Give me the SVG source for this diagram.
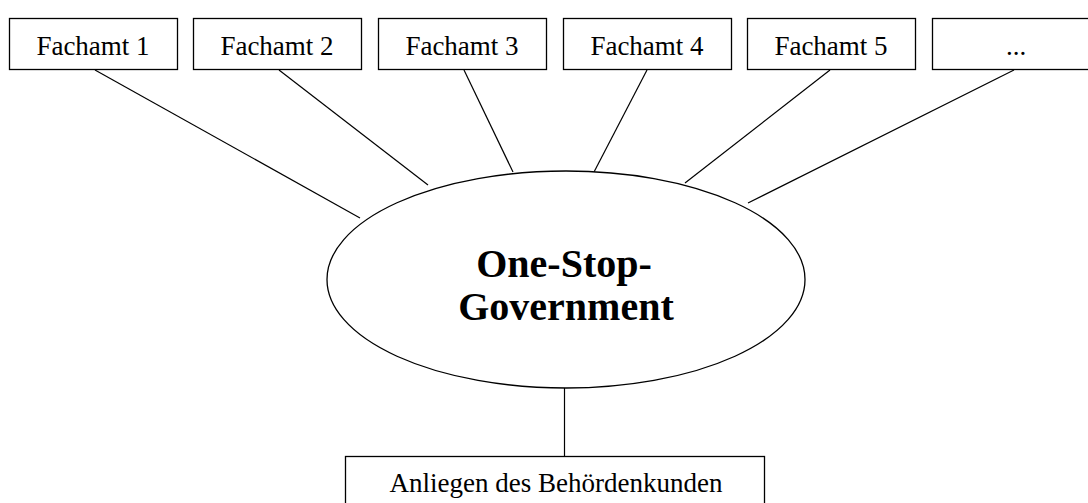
<svg xmlns="http://www.w3.org/2000/svg" width="1088" height="503" viewBox="0 0 1088 503">
<style>
.box{fill:#fff;stroke:#000;stroke-width:1.3}
.t{font-family:"Liberation Serif","Times New Roman",serif;font-size:27px;fill:#000;text-anchor:middle}
.b{font-family:"Liberation Serif","Times New Roman",serif;font-size:40px;font-weight:bold;fill:#000;text-anchor:middle}
.c{stroke:#000;stroke-width:1.2;fill:none}
</style>
<rect width="1088" height="503" fill="#fff"/>
<g id="connectors">
<line class="c" x1="95" y1="70" x2="360" y2="218"/>
<line class="c" x1="279" y1="70" x2="428" y2="185"/>
<line class="c" x1="464" y1="70" x2="513" y2="172"/>
<line class="c" x1="647" y1="70" x2="594" y2="172"/>
<line class="c" x1="830" y1="70" x2="685" y2="183"/>
<line class="c" x1="1014" y1="70" x2="748" y2="203"/>
<line class="c" x1="564.5" y1="388" x2="564.5" y2="456"/>
</g>
<g id="n1"><rect class="box" x="9.5" y="18.5" width="168" height="51"/><text class="t" x="93" y="55">Fachamt 1</text></g>
<g id="n2"><rect class="box" x="193.5" y="18.5" width="168" height="51"/><text class="t" x="277" y="55">Fachamt 2</text></g>
<g id="n3"><rect class="box" x="378.5" y="18.5" width="168" height="51"/><text class="t" x="462" y="55">Fachamt 3</text></g>
<g id="n4"><rect class="box" x="563.5" y="18.5" width="168" height="51"/><text class="t" x="647" y="55">Fachamt 4</text></g>
<g id="n5"><rect class="box" x="747.5" y="18.5" width="168" height="51"/><text class="t" x="831" y="55">Fachamt 5</text></g>
<g id="n6"><rect class="box" x="932.5" y="18.5" width="170" height="51"/><text class="t" x="1016" y="55">...</text></g>
<g id="center"><ellipse class="box" cx="566" cy="279.5" rx="239" ry="108.5"/><text class="b" x="564" y="277">One-Stop-</text><text class="b" x="566" y="320">Government</text></g>
<g id="bottom"><rect class="box" x="345.5" y="456.5" width="419" height="60"/><text class="t" x="556" y="492">Anliegen des Behördenkunden</text></g>
</svg>
